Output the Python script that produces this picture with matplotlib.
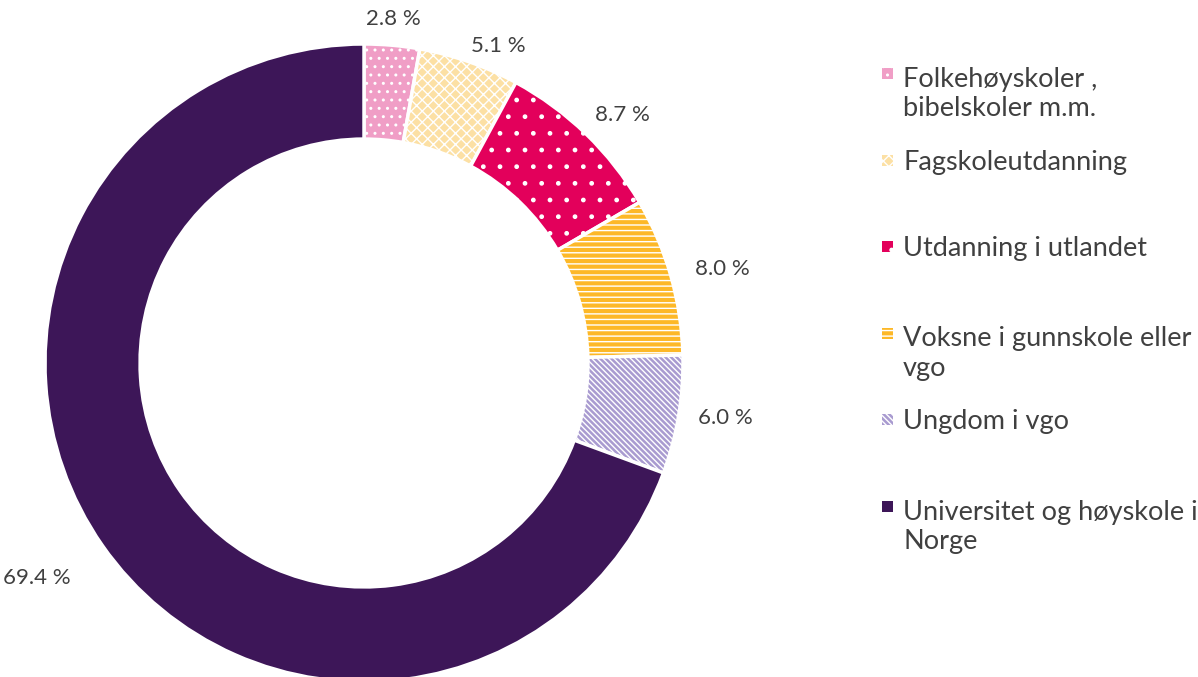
import numpy as np
import matplotlib
matplotlib.use("Agg")
import matplotlib.pyplot as plt
from matplotlib.patches import Rectangle

plt.rcParams['font.family'] = ['Lato', 'DejaVu Sans']
plt.rcParams['hatch.linewidth'] = 1.0

categories = ["Folkehøyskoler ,\nbibelskoler m.m.", "Fagskoleutdanning",
              "Utdanning i utlandet", "Voksne i gunnskole eller\nvgo",
              "Ungdom i vgo", "Universitet og høyskole i\nNorge"]
values = [2.8, 5.1, 8.7, 8.0, 6.0, 69.4]
colors = ["#F09EC6", "#FCE0A4", "#E3005B", "#FDB827", "#A99BD0", "#3D1658"]
hatches = ["..", "xxx", ".", "---", "\\\\\\\\\\\\", None]
text_color = "#404040"

W, H = 1198, 677
fig = plt.figure(figsize=(W / 100, H / 100), dpi=100)
cx, cy, R = 364, 363, 319
ax = fig.add_axes([(cx - R) / W, (H - cy - R) / H, 2 * R / W, 2 * R / H])

wedges, _ = ax.pie(values, colors=colors, startangle=90, counterclock=False,
                   radius=1, wedgeprops=dict(width=0.298, edgecolor="white", linewidth=2.5))
for w, h in zip(wedges, hatches):
    if h:
        w.set_hatch(h)
ax.set_xlim(-1, 1)
ax.set_ylim(-1, 1)
ax.set_aspect("equal")
ax.axis("off")

# percent labels outside the ring (radial distance per label, like Excel's placement)
label_r = [1.05, 1.02, 1.04, 1.08, 1.06, 1.12]
for w, v, r in zip(wedges, values, label_r):
    ang = np.deg2rad((w.theta1 + w.theta2) / 2)
    c, s = np.cos(ang), np.sin(ang)
    ha = "center" if abs(c) < 0.3 else ("left" if c > 0 else "right")
    va = "center" if abs(s) < 0.5 else ("bottom" if s > 0 else "top")
    ax.text(r * c, r * s, f"{v:.1f} %", ha=ha, va=va, fontsize=16, color=text_color)

# legend drawn by hand so first lines are evenly spaced like the original
line_px = 33
for i, (name, col, h) in enumerate(zip(categories, colors, hatches)):
    base = 83 + i * 86.6
    last = base + (name.count("\n")) * line_px
    fig.text(903 / W, 1 - last / H, name, ha="left", va="baseline",
             fontsize=19.5, color=text_color, linespacing=1.22)
    fig.patches.append(Rectangle((882 / W, 1 - (base - 4) / H), 11 / W, 11 / H,
                                 transform=fig.transFigure, facecolor=col,
                                 edgecolor="white", linewidth=0, hatch=h))

fig.savefig("out.png", dpi=100)
